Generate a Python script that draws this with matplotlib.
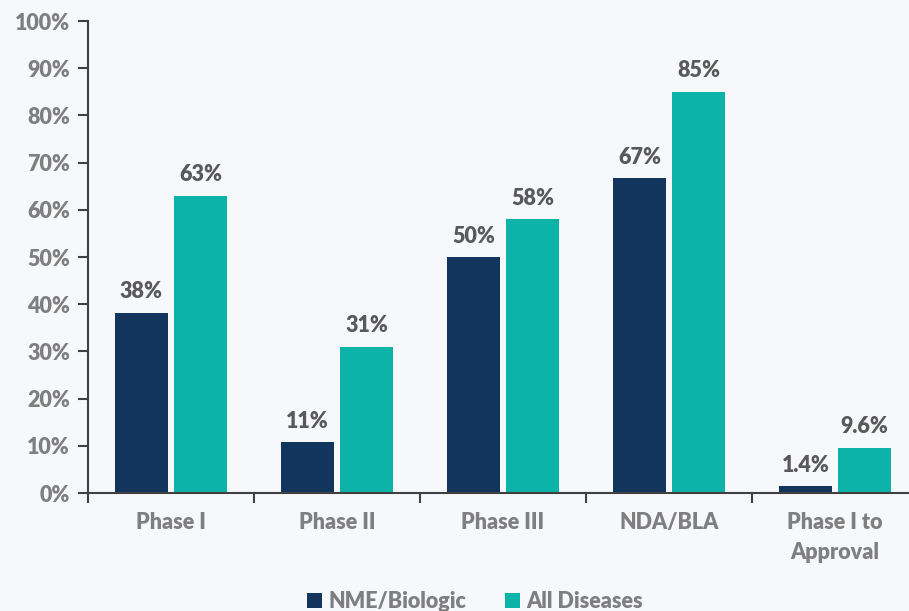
import numpy as np
import matplotlib
matplotlib.use("Agg")
import matplotlib.pyplot as plt
from matplotlib.ticker import MultipleLocator, FuncFormatter

plt.rcParams['font.family'] = ['Lato', 'DejaVu Sans']
plt.rcParams['font.weight'] = 'heavy'

categories = ["Phase I", "Phase II", "Phase III", "NDA/BLA", "Phase I to\nApproval"]
nme = [38.2, 10.8, 50.0, 66.7, 1.4]
all_dis = [63.0, 31.0, 58.0, 85.0, 9.6]
nme_labels = ["38%", "11%", "50%", "67%", "1.4%"]
all_labels = ["63%", "31%", "58%", "85%", "9.6%"]

bg = "#F7F8FC"
navy = "#12355E"
teal = "#0CB3A8"
gray = "#7F7F7F"
dark_gray = "#595959"

fig = plt.figure(figsize=(9.09, 6.11), dpi=100, facecolor=bg)
ax = fig.add_axes([88/909, 118/611, 830/909, 472/611])
ax.set_facecolor(bg)

x = np.arange(len(categories))
w = 0.32
b1 = ax.bar(x - 0.178, nme, w, color=navy, label="NME/Biologic")
b2 = ax.bar(x + 0.178, all_dis, w, color=teal, label="All Diseases")

for bars, labs in ((b1, nme_labels), (b2, all_labels)):
    for rect, lab in zip(bars, labs):
        ax.text(rect.get_x() + rect.get_width()/2, rect.get_height() + 2.2, lab,
                ha='center', va='bottom', fontsize=15.5, color=dark_gray, fontweight='heavy')

ax.set_xlim(-0.5, len(categories) - 0.5)
ax.set_ylim(0, 100)
ax.yaxis.set_major_locator(MultipleLocator(10))
ax.yaxis.set_major_formatter(FuncFormatter(lambda v, p: f"{int(v)}%"))

ax.set_xticks(x)
ax.set_xticklabels(categories, fontweight='heavy', linespacing=1.5)
ax.set_xticks(np.arange(len(categories)) - 0.5, minor=True)
ax.tick_params(axis='x', which='major', length=0, pad=14, labelsize=15.5, labelcolor=gray)
ax.tick_params(axis='x', which='minor', length=7, width=1.5, color="#404040", direction='out')
ax.tick_params(axis='y', length=7, width=1.5, color="#404040", pad=6, labelsize=15.5, labelcolor=gray)
for t in ax.get_yticklabels():
    t.set_fontweight('heavy')

for s in ['top', 'right']:
    ax.spines[s].set_visible(False)
for s in ['left', 'bottom']:
    ax.spines[s].set_color("#404040")
    ax.spines[s].set_linewidth(1.5)

leg = fig.legend(handles=[b1, b2], loc='lower center', bbox_to_anchor=(475/909, -0.033),
                 ncol=2, frameon=False, handlelength=0.7, handleheight=0.7,
                 handletextpad=0.3, columnspacing=1.8,
                 prop={'size': 15.5, 'weight': 'heavy'})
for t in leg.get_texts():
    t.set_color(gray)

fig.savefig("out.png", dpi=100, facecolor=bg)
